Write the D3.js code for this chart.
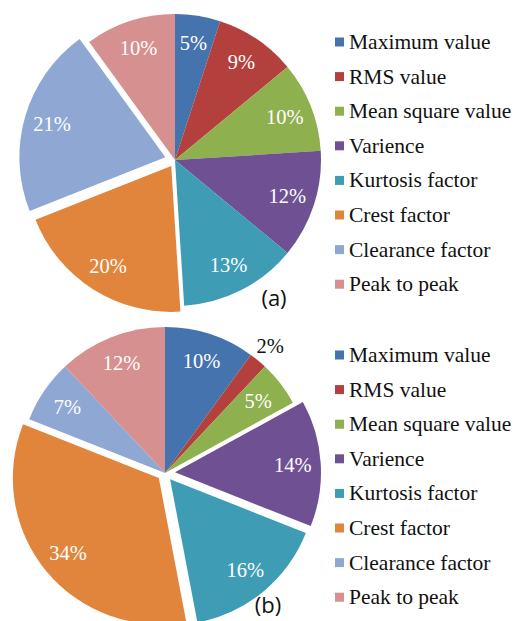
<!DOCTYPE html>
<html>
<head>
<meta charset="utf-8">
<script src="https://cdn.jsdelivr.net/npm/d3@7"></script>
<style>
  body { margin: 0; background: #fff; }
  svg { display: block; }
</style>
</head>
<body>
<div id="chart"></div>
<script>
var categories = ["Maximum value", "RMS value", "Mean square value", "Varience",
  "Kurtosis factor", "Crest factor", "Clearance factor", "Peak to peak"];
var colors = ["#4573ad", "#b4403e", "#8fb04f", "#6f5193", "#3e9cb4", "#e2853c", "#8ea8d3", "#d5908f"];
var valuesA = [5, 9, 10, 12, 13, 20, 21, 10];
var valuesB = [10, 2, 5, 14, 16, 34, 7, 12];
// exploded slices (px pulled out)
var explodeA = [0, 0, 0, 0, 0, 7, 10, 0];
var explodeB = [0, 0, 0, 10, 8, 8, 0, 0];
var panels = ["(a)", "(b)"];

var width = 517, height = 621;
var serif = "'Liberation Serif'";
var sans = "'Open Sans'";

var svg = d3.select("#chart").append("svg")
  .attr("width", width)
  .attr("height", height);

var pie = d3.pie().sort(null).value(function(d) { return d; });

function drawPanel(values, explode, cx, cy, r, legendY, tag, tagX, tagY) {
  var arc = d3.arc().innerRadius(0).outerRadius(r);
  var labelArc = d3.arc().innerRadius(118).outerRadius(118);
  var outArc = d3.arc().innerRadius(165).outerRadius(165);
  var arcs = pie(values);

  function shift(d, i) {
    var a = (d.startAngle + d.endAngle) / 2;
    return [Math.sin(a) * explode[i], -Math.cos(a) * explode[i]];
  }

  svg.selectAll(null)
    .data(arcs)
    .enter().append("path")
    .attr("transform", function(d, i) {
      var s = shift(d, i);
      return "translate(" + (cx + s[0]) + "," + (cy + s[1]) + ")";
    })
    .attr("d", arc)
    .attr("fill", function(d, i) { return colors[i]; });

  svg.selectAll(null)
    .data(arcs)
    .enter().append("text")
    .attr("x", function(d, i) {
      var c = d.value < 3 ? outArc.centroid(d) : labelArc.centroid(d);
      return cx + c[0] + shift(d, i)[0];
    })
    .attr("y", function(d, i) {
      var c = d.value < 3 ? outArc.centroid(d) : labelArc.centroid(d);
      return cy + c[1] + shift(d, i)[1] + 7;
    })
    .attr("text-anchor", "middle")
    .style("font-family", serif)
    .style("font-size", "20.5px")
    .attr("fill", function(d) { return d.value < 3 ? "#111" : "#fff"; })
    .text(function(d) { return d.value + "%"; });

  svg.append("text")
    .attr("x", tagX)
    .attr("y", tagY)
    .attr("text-anchor", "middle")
    .style("font-family", sans)
    .style("font-size", "22px")
    .attr("fill", "#111")
    .text(tag);

  svg.selectAll(null)
    .data(categories)
    .enter().append("rect")
    .attr("x", 335)
    .attr("y", function(d, i) { return legendY + i * 34.6 - 4.5; })
    .attr("width", 9).attr("height", 9)
    .attr("fill", function(d, i) { return colors[i]; });

  svg.selectAll(null)
    .data(categories)
    .enter().append("text")
    .attr("x", 349)
    .attr("y", function(d, i) { return legendY + i * 34.6 + 7; })
    .style("font-family", serif)
    .style("font-size", "21.5px")
    .attr("fill", "#111")
    .text(function(d) { return d; });
}

drawPanel(valuesA, explodeA, 175, 160, 146, 42, panels[0], 274, 306);
drawPanel(valuesB, explodeB, 165, 473, 146, 355, panels[1], 268, 613);
</script>
</body>
</html>
